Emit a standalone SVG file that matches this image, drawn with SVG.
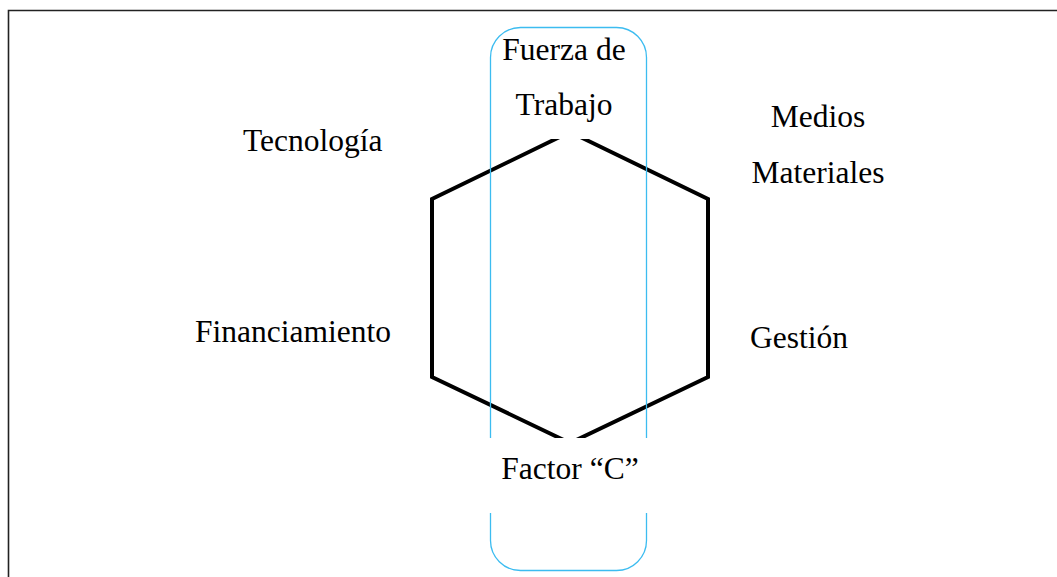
<svg xmlns="http://www.w3.org/2000/svg" width="1057" height="577" viewBox="0 0 1057 577">
<style>
.t{font-family:"Liberation Serif","Times New Roman",serif;font-size:31.5px;fill:#000}
.mask{fill:#fff;stroke:none}
</style>
<rect x="0" y="0" width="1057" height="577" fill="#fff"/>
<g id="frame">
<path d="M8.5 577 V10.5 H1057" fill="none" stroke="#222" stroke-width="1.6"/>
</g>
<g id="hexagon">
<polygon points="570,132 708,199 708,377 570,443 432,377 432,199" fill="none" stroke="#000" stroke-width="4" stroke-linejoin="miter"/>
</g>
<g id="fuerza">
<rect class="mask" x="500" y="28" width="136" height="111"/>
<text class="t" x="564" y="60" text-anchor="middle">Fuerza de</text>
<text class="t" x="564" y="115" text-anchor="middle">Trabajo</text>
</g>
<g id="column">
<rect x="490.5" y="27.5" width="156" height="543" rx="30" ry="30" fill="none" stroke="#3cbcf0" stroke-width="1.3"/>
</g>
<g id="factor">
<rect class="mask" x="470" y="438" width="200" height="75"/>
<text class="t" x="570" y="479" text-anchor="middle">Factor “C”</text>
</g>
<g id="tecnologia"><text class="t" x="243" y="151">Tecnología</text></g>
<g id="medios">
<text class="t" x="818" y="127" text-anchor="middle">Medios</text>
<text class="t" x="818" y="183" text-anchor="middle">Materiales</text>
</g>
<g id="financiamiento"><text class="t" x="195" y="342">Financiamiento</text></g>
<g id="gestion"><text class="t" x="750" y="348">Gestión</text></g>
<g id="connectors"></g>
</svg>
